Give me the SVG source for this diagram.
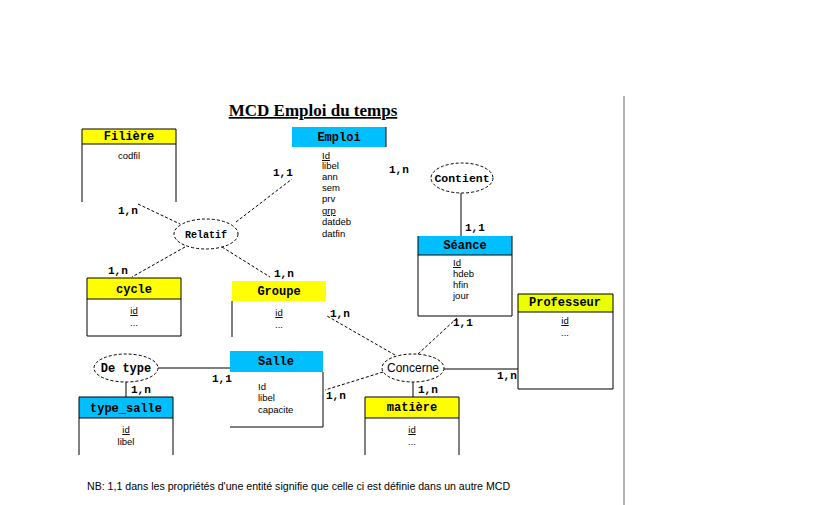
<svg xmlns="http://www.w3.org/2000/svg" width="823" height="505" viewBox="0 0 823 505">
<style>
.hdrY{fill:#ffff00}
.hdrB{fill:#00bfff}
.edge{stroke:#000;stroke-width:1;fill:none}
.dash{stroke:#000;stroke-width:1;fill:none;stroke-dasharray:3,2}
.ell{fill:#fff;stroke:#000;stroke-width:1;stroke-dasharray:3,2}
.ht{font-family:"Liberation Mono",monospace;font-weight:bold;font-size:12px;text-anchor:middle}
.at{font-family:"Liberation Sans",sans-serif;font-size:9.5px}
.atc{font-family:"Liberation Sans",sans-serif;font-size:9.5px;text-anchor:middle}
.card{font-family:"Liberation Mono",monospace;font-weight:bold;font-size:11px}
.u{text-decoration:underline}
</style>
<rect width="823" height="505" fill="#fff"/>
<line x1="624" y1="96" x2="624" y2="505" stroke="#999" stroke-width="1.5"/>
<text x="313" y="116" font-family="Liberation Serif,serif" font-weight="bold" font-size="17" text-anchor="middle" text-decoration="underline">MCD Emploi du temps</text>

<g id="connectors">
<line class="dash" x1="138" y1="204" x2="180" y2="224"/>
<line class="dash" x1="236" y1="222" x2="292" y2="179"/>
<line class="dash" x1="185" y1="247" x2="132" y2="277"/>
<line class="dash" x1="222" y1="247" x2="270" y2="277"/>
<line class="edge" x1="461" y1="193" x2="461" y2="236"/>
<line class="edge" x1="158" y1="368" x2="230" y2="368"/>
<line class="edge" x1="126" y1="382" x2="126" y2="397"/>
<line class="edge" x1="444" y1="369" x2="518" y2="369"/>
<line class="edge" x1="413" y1="382" x2="413" y2="397"/>
<line class="dash" x1="418" y1="354" x2="457" y2="318"/>
<line class="dash" x1="395" y1="355" x2="327" y2="316"/>
<line class="dash" x1="383" y1="372" x2="325" y2="390"/>
</g>

<g id="cards">
<text class="card" x="118" y="214">1,n</text>
<text class="card" x="273" y="176">1,1</text>
<text class="card" x="389" y="173">1,n</text>
<text class="card" x="108" y="274">1,n</text>
<text class="card" x="274" y="277">1,n</text>
<text class="card" x="465" y="231">1,1</text>
<text class="card" x="330" y="317">1,n</text>
<text class="card" x="453" y="326">1,1</text>
<text class="card" x="212" y="382">1,1</text>
<text class="card" x="131" y="393">1,n</text>
<text class="card" x="326" y="399">1,n</text>
<text class="card" x="418" y="393">1,n</text>
<text class="card" x="497" y="379">1,n</text>
</g>

<g id="filiere">
<rect class="hdrY" x="82" y="129" width="94" height="15"/>
<path class="edge" d="M82,202 V129 H176 V202 M82,144 H176"/>
<text class="ht" x="129" y="140">Filière</text>
<text class="atc" x="129" y="159">codfil</text>
</g>

<g id="emploi">
<rect class="hdrB" x="292" y="127" width="94" height="20"/>
<line class="edge" x1="386" y1="127" x2="386" y2="147"/>
<text class="ht" x="339" y="141">Emploi</text>
<text class="at u" x="322" y="159">Id</text>
<text class="at" x="322" y="169">libel</text>
<text class="at" x="322" y="180">ann</text>
<text class="at" x="322" y="191">sem</text>
<text class="at" x="322" y="202">prv</text>
<text class="at u" x="322" y="214">grp</text>
<text class="at" x="322" y="225">datdeb</text>
<text class="at" x="322" y="237">datfin</text>
</g>

<g id="relatif">
<ellipse class="ell" cx="206" cy="234" rx="32" ry="15"/>
<text class="ht" x="206" y="238" style="font-size:10px">Relatif</text>
</g>

<g id="contient">
<ellipse class="ell" cx="462" cy="178" rx="31" ry="15"/>
<text class="ht" x="462" y="182" style="font-size:11.5px">Contient</text>
</g>

<g id="seance">
<rect class="hdrB" x="418" y="236" width="94" height="19"/>
<path class="edge" d="M418,236 V316 H512 V236 M418,255 H512"/>
<text class="ht" x="465" y="249">Séance</text>
<text class="at u" x="453" y="266">Id</text>
<text class="at" x="453" y="277">hdeb</text>
<text class="at" x="453" y="288">hfin</text>
<text class="at" x="453" y="299">jour</text>
</g>

<g id="cycle">
<rect class="hdrY" x="87" y="278" width="94" height="21"/>
<path class="edge" d="M87,278 V336 H181 V278 Z M87,299 H181"/>
<text class="ht" x="134" y="293">cycle</text>
<text class="atc u" x="134" y="314">id</text>
<text class="atc" x="134" y="326">...</text>
</g>

<g id="groupe">
<rect class="hdrY" x="232" y="281" width="94" height="20"/>
<line class="edge" x1="232" y1="301" x2="232" y2="337"/>
<text class="ht" x="279" y="295">Groupe</text>
<text class="atc u" x="279" y="316">id</text>
<text class="atc" x="279" y="328">...</text>
</g>

<g id="professeur">
<rect x="518" y="294" width="95" height="18" style="fill:#eaff00"/>
<path class="edge" d="M518,294 V389 H613 V294 H518 M518,312 H613"/>
<text class="ht" x="565" y="306">Professeur</text>
<text class="atc u" x="565" y="324">id</text>
<text class="atc" x="565" y="336">...</text>
</g>

<g id="detype">
<ellipse class="ell" cx="126" cy="368" rx="32" ry="14"/>
<text class="ht" x="126" y="372">De type</text>
</g>

<g id="salle">
<rect class="hdrB" x="230" y="351" width="93" height="21"/>
<path class="edge" d="M323,372 V427 H230"/>
<text class="ht" x="276" y="365">Salle</text>
<text class="at" x="258" y="390">Id</text>
<text class="at" x="258" y="401">libel</text>
<text class="at" x="258" y="413">capacite</text>
</g>

<g id="concerne">
<ellipse class="ell" cx="413" cy="368" rx="31" ry="14"/>
<text class="atc" x="413" y="372" style="font-size:12px">Concerne</text>
</g>

<g id="type_salle">
<rect class="hdrB" x="79" y="397" width="94" height="21"/>
<path class="edge" d="M79,455 V397 H173 V455 M79,418 H173"/>
<text class="ht" x="126" y="412">type_salle</text>
<text class="atc u" x="126" y="433">id</text>
<text class="atc" x="126" y="445">libel</text>
</g>

<g id="matiere">
<rect class="hdrY" x="365" y="397" width="94" height="21"/>
<path class="edge" d="M365,455 V397 H459 V455 M365,418 H459"/>
<text class="ht" x="412" y="411">matière</text>
<text class="atc u" x="412" y="433">id</text>
<text class="atc" x="412" y="445">...</text>
</g>

<text x="87" y="490" font-family="Liberation Sans,sans-serif" font-size="10.6">NB: 1,1 dans  les propriétés d'une entité signifie que celle ci est définie dans un autre MCD</text>
</svg>
